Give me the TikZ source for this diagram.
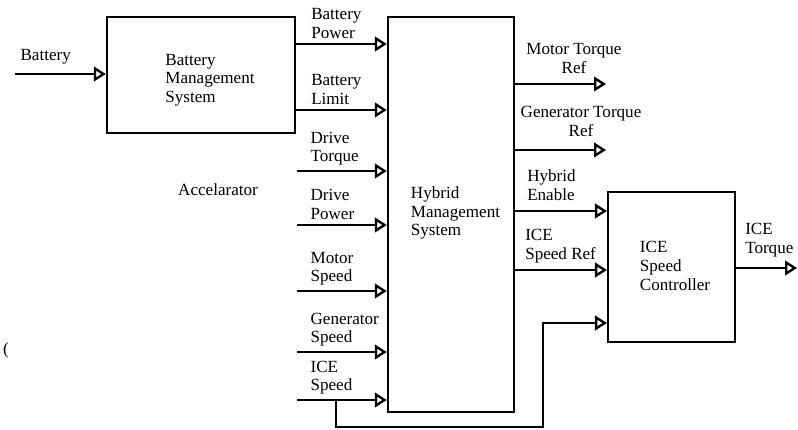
\documentclass[tikz,border=0pt]{standalone}
\usepackage{fontspec}
\setmainfont{Liberation Serif}
\usetikzlibrary{arrows.meta,positioning,calc}
\tikzset{
  blk/.style={draw,line width=1.8pt,inner sep=0pt},
  txt/.style={align=left,font=\fontsize{12.8}{14}\selectfont,inner sep=0pt},
  lbl/.style={txt,inner sep=0pt},
  arr/.style={-{Triangle[open,length=9pt,width=11pt,line width=1.8pt]},line width=1.8pt},
}
\begin{document}
\begin{tikzpicture}[x=0.75pt,y=-0.75pt]
\useasboundingbox (0,0) rectangle (798,429);

\node[blk,minimum width=141pt,minimum height=87pt] (bms) at (201,75) {};
\node[txt] (bmst) at (210,80) {Battery\\Management\\System};
\node[blk,minimum width=94.5pt,minimum height=296pt] (hms) at (451,214.5) {};
\node[txt] (hmst) at (455.5,213) {Hybrid\\Management\\System};
\node[blk,minimum width=95pt,minimum height=112.5pt] (ice) at (671.5,267) {};
\node[txt] (icet) at (675,266) {ICE\\Speed\\Controller};

\coordinate (bat) at (15,74);
\draw[arr] (bat) -- (bms.west|-bat);
\node[lbl,above right=7pt and 4pt of bat] (batl) {Battery};
\node[lbl] (acc) at (218,190) {Accelarator};
\node[lbl] (par) at (6,350) {(};

\foreach \n/\y/\t in {1/44/{Battery\\Power},2/110/{Battery\\Limit}}{
  \coordinate (in\n) at (295,\y);
  \draw[arr] (in\n) -- (hms.west|-in\n);
  \node[lbl,above right=4pt and 12pt of in\n] {\t};
}
\foreach \n/\y/\t in {3/171/{Drive\\Torque},4/225/{Drive\\Power},5/291/{Motor\\Speed},
                      6/352/{Generator\\Speed},7/400/{ICE\\Speed}}{
  \coordinate (in\n) at (297,\y);
  \draw[arr] (in\n) -- (hms.west|-in\n);
  \node[lbl,above right=4pt and 10pt of in\n] {\t};
}

\coordinate (mt) at (606,84);
\coordinate (gt) at (606,150);
\coordinate (he) at (0,211);
\coordinate (sr) at (0,270);
\coordinate (fb) at (0,323);
\coordinate (it) at (797,268);
\draw[arr] (hms.east|-mt) -- (mt);
\draw[arr] (hms.east|-gt) -- (gt);
\draw[arr] (hms.east|-he) -- (ice.west|-he);
\draw[arr] (hms.east|-sr) -- (ice.west|-sr);
\draw[arr] (ice.east|-it) -- (it);
\draw[arr] (336,400) -- (336,427) -| (543,323) -- (ice.west|-fb);

\node[lbl,align=center,anchor=south] (mtl) at (574,74) {Motor Torque\\Ref};
\node[lbl,align=center,anchor=south] (gtl) at (581,137) {Generator Torque\\Ref};
\node[lbl,anchor=south west] (hel) at (527,201) {Hybrid\\Enable};
\node[lbl,anchor=south west] (srl) at (525,263) {ICE\\Speed Ref};
\node[lbl,anchor=south west] (itl) at (745,257) {ICE\\Torque};
\end{tikzpicture}
\end{document}
